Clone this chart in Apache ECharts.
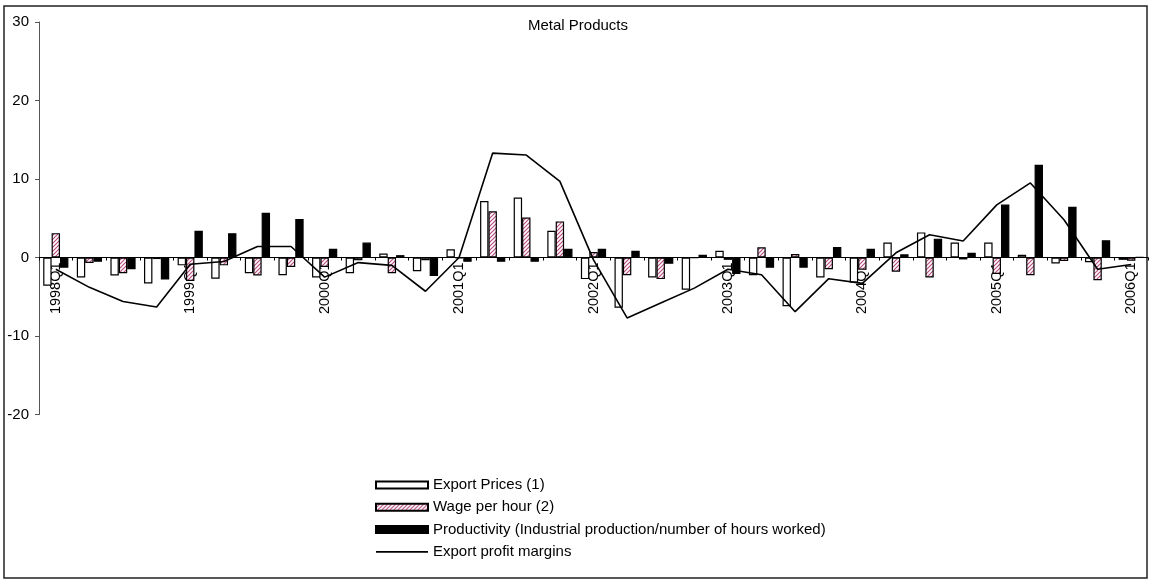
<!DOCTYPE html>
<html>
<head>
<meta charset="utf-8">
<title>Metal Products</title>
<script src="https://cdn.jsdelivr.net/npm/echarts@6/dist/echarts.min.js"></script>
<style>
  html, body { margin: 0; padding: 0; background: #fff; }
  #chart { width: 1151px; height: 579px; }
</style>
</head>
<body>
<div id="chart"></div>
<script>
// Quarterly categories, 1998Q1 .. 2006Q1
const quarters = [
  '1998Q1','1998Q2','1998Q3','1998Q4',
  '1999Q1','1999Q2','1999Q3','1999Q4',
  '2000Q1','2000Q2','2000Q3','2000Q4',
  '2001Q1','2001Q2','2001Q3','2001Q4',
  '2002Q1','2002Q2','2002Q3','2002Q4',
  '2003Q1','2003Q2','2003Q3','2003Q4',
  '2004Q1','2004Q2','2004Q3','2004Q4',
  '2005Q1','2005Q2','2005Q3','2005Q4',
  '2006Q1'
];

// Export Prices (1)
const exportPrices = [
  -3.6, -2.55, -2.3, -3.3,
  -1.0, -2.7, -2.0, -2.25,
  -2.55, -2.0, 0.5, -1.75,
  1.05, 7.2, 7.65, 3.4,
  -2.75, -6.4, -2.55, -4.1,
  0.85, -2.25, -6.2, -2.55,
  -3.2, 1.9, 3.2, 1.9,
  1.9, 0.35, -0.75, -0.6,
  -0.3
];

// Wage per hour (2)
const wagePerHour = [
  3.1, -0.7, -2.0, -0.2,
  -3.0, -1.0, -2.3, -1.2,
  -1.2, -0.35, -2.0, -0.35,
  -0.1, 5.9, 5.1, 4.6,
  0.7, -2.25, -2.75, -0.05,
  -0.3, 1.3, 0.45, -1.5,
  -1.55, -1.8, -2.55, -0.25,
  -2.1, -2.25, -0.45, -2.9,
  -0.4
];

// Productivity (Industrial production / number of hours worked)
const productivity = [
  -1.3, -0.55, -1.5, -2.8,
  3.4, 3.1, 5.7, 4.9,
  1.1, 1.9, 0.3, -2.35,
  -0.55, -0.55, -0.55, 1.1,
  1.1, 0.85, -0.8, 0.35,
  -2.1, -1.3, -1.3, 1.35,
  1.1, 0.4, 2.4, 0.6,
  6.75, 11.8, 6.45, 2.2,
  0.05
];

// Export profit margins
const profitMargins = [
  -1.5, -3.8, -5.6, -6.3,
  -0.85, -0.5, 1.4, 1.4,
  -2.5, -0.65, -1.0, -4.3,
  0.0, 13.3, 13.05, 9.7,
  -0.3, -7.7, -5.8, -3.9,
  -1.5, -2.2, -6.9, -2.7,
  -3.3, 0.6, 2.9, 2.1,
  6.7, 9.5, 4.8, -1.5,
  -0.9
];

const yTicks = [-20, -10, 0, 10, 20, 30];

const FONT = '"Liberation Sans", Arial, sans-serif';
const FONT_SIZE = 15;

// Plot box (pixels) and the offset that lifts the category axis to the zero line
const GRID = { left: 39, right: 3, top: 22, bottom: 164.5 };
const plotHeight = 579 - GRID.top - GRID.bottom;
const yMin = yTicks[0], yMax = yTicks[yTicks.length - 1];
const zeroLift = plotHeight * (0 - yMin) / (yMax - yMin);

// Diagonal pink hatch used for the wage bars
function hatchPattern() {
  const c = document.createElement('canvas');
  c.width = 4; c.height = 4;
  const ctx = c.getContext('2d');
  ctx.fillStyle = '#ffffff';
  ctx.fillRect(0, 0, 4, 4);
  ctx.strokeStyle = '#b94d80';
  ctx.lineWidth = 1.2;
  ctx.beginPath();
  ctx.moveTo(-1, 1); ctx.lineTo(1, -1);
  ctx.moveTo(0, 4); ctx.lineTo(4, 0);
  ctx.moveTo(3, 5); ctx.lineTo(5, 3);
  ctx.stroke();
  return c;
}

const chart = echarts.init(document.getElementById('chart'), null, { renderer: 'canvas' });

const barBorder = { borderColor: '#000', borderWidth: 1.2 };

chart.setOption({
  animation: false,
  backgroundColor: '#fff',
  textStyle: { fontFamily: FONT },
  title: {
    text: 'Metal Products',
    left: 528,
    top: 18.5,
    padding: 0,
    textStyle: { fontFamily: FONT, fontSize: FONT_SIZE, fontWeight: 'normal', color: '#000' }
  },
  graphic: [{
    type: 'rect',
    silent: true,
    shape: { x: 4, y: 6, width: 1143, height: 572 },
    style: { fill: null, stroke: '#222', lineWidth: 1.5 }
  }],
  legend: {
    orient: 'vertical',
    left: 370,
    top: 472.5,
    itemWidth: 52,
    itemHeight: 7,
    itemGap: 7.3,
    textStyle: { fontFamily: FONT, fontSize: FONT_SIZE, color: '#000' },
    data: [
      { name: 'Export Prices (1)', icon: 'rect' },
      { name: 'Wage per hour (2)', icon: 'rect' },
      { name: 'Productivity (Industrial production/number of hours worked)', icon: 'rect' },
      {
        name: 'Export profit margins',
        icon: 'path://M0,0 L52,0 L52,1.6 L0,1.6 Z',
        symbolKeepAspect: true,
        itemStyle: { color: '#000', borderWidth: 0 }
      }
    ]
  },
  grid: GRID,
  xAxis: {
    type: 'category',
    data: quarters,
    boundaryGap: true,
    offset: -zeroLift,
    axisLine: { onZero: false, lineStyle: { color: '#000', width: 1 } },
    axisTick: { show: true, interval: 0, length: 3, inside: false, lineStyle: { color: '#000' } },
    axisLabel: {
      interval: 3,
      rotate: 90,
      margin: 5,
      fontFamily: FONT,
      fontSize: 14.5,
      color: '#000'
    },
    splitLine: { show: false }
  },
  yAxis: {
    type: 'value',
    min: yMin,
    max: yMax,
    interval: 10,
    axisLine: { show: true, lineStyle: { color: '#555', width: 1 } },
    axisTick: { show: true, length: 4, lineStyle: { color: '#555' } },
    axisLabel: { margin: 10, fontFamily: FONT, fontSize: FONT_SIZE, color: '#000' },
    splitLine: { show: false }
  },
  series: [
    {
      name: 'Export Prices (1)',
      type: 'bar',
      data: exportPrices,
      barGap: '0%',
      barCategoryGap: '25%',
      itemStyle: Object.assign({ color: '#fff' }, barBorder)
    },
    {
      name: 'Wage per hour (2)',
      type: 'bar',
      data: wagePerHour,
      barGap: '0%',
      barCategoryGap: '25%',
      itemStyle: Object.assign({ color: { image: hatchPattern(), repeat: 'repeat' } }, barBorder)
    },
    {
      name: 'Productivity (Industrial production/number of hours worked)',
      type: 'bar',
      data: productivity,
      barGap: '0%',
      barCategoryGap: '25%',
      itemStyle: Object.assign({ color: '#000' }, barBorder)
    },
    {
      name: 'Export profit margins',
      type: 'line',
      data: profitMargins,
      symbol: 'none',
      z: 5,
      lineStyle: { color: '#000', width: 1.6 },
      itemStyle: { color: '#000' }
    }
  ]
});
</script>
</body>
</html>
